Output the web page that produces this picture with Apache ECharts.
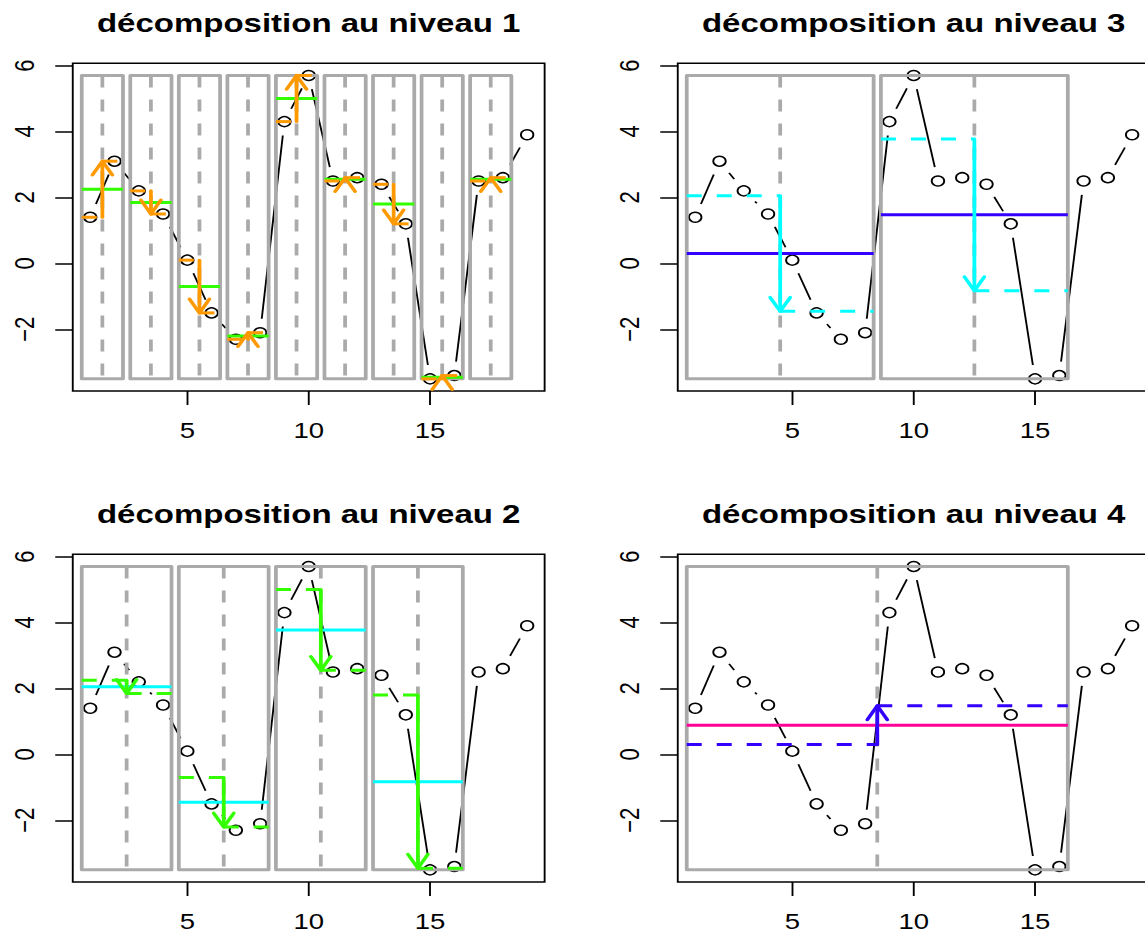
<!DOCTYPE html>
<html>
<head>
<meta charset="utf-8">
<script src="https://cdn.jsdelivr.net/npm/echarts@6/dist/echarts.min.js"></script>
<style>
html,body{margin:0;padding:0;background:#fff;overflow:hidden;width:1145px;height:937px}
#c{width:916px;height:937px;transform:scaleX(1.25);transform-origin:0 0}
</style>
</head>
<body>
<div id="c"></div>
<script>
// ---- data ----
const xIndex = [1, 2, 3, 4, 5, 6, 7, 8, 9, 10, 11, 12, 13, 14, 15, 16, 17, 18, 19];
const values = [1.4, 3.1, 2.2, 1.5, 0.1, -1.5, -2.3, -2.1, 4.3, 5.7, 2.5, 2.6, 2.4, 1.2, -3.5, -3.4, 2.5, 2.6, 3.9];
const level1Means = [2.25, 1.85, -0.7, -2.2, 5.0, 2.55, 1.8, -3.45, 2.55];
const level2Means = [2.05, -1.45, 3.775, -0.825];
const level3Means = [0.3, 1.475];
const level4Means = [0.8875];
const xTicks = [5, 10, 15];
const yTicks = [-2, 0, 2, 4, 6];
const titles = ['décomposition au niveau 1', 'décomposition au niveau 3', 'décomposition au niveau 2', 'décomposition au niveau 4'];

// ---- styling / layout ----
const FONT = "'Liberation Sans', Arial, Helvetica, sans-serif";
const ORANGE = '#FF9900', GREEN = '#33FF00', CYAN = '#00FFFF', BLUE = '#3300FF', PINK = '#FF0099', GRAY = '#AAAAAA';
const grids = [
  {left: 58.2, top: 63.3, width: 377.5, height: 327.7},
  {left: 542.2, top: 63.3, width: 377.5, height: 327.7},
  {left: 58.2, top: 554.3, width: 377.5, height: 327.7},
  {left: 542.2, top: 554.3, width: 377.5, height: 327.7}
];
const panels = [
  {grid: 0, level: 1, prev: values, means: level1Means, prevColor: ORANGE, meanColor: GREEN},
  {grid: 1, level: 3, prev: level2Means, means: level3Means, prevColor: CYAN, meanColor: BLUE},
  {grid: 2, level: 2, prev: level1Means, means: level2Means, prevColor: GREEN, meanColor: CYAN},
  {grid: 3, level: 4, prev: level3Means, means: level4Means, prevColor: BLUE, meanColor: PINK}
];
const PAD = 0.35, GAP = 14, HEAD = 16, LW = 3, DASH = [12, 12];
const yMin = Math.min.apply(null, values), yMax = Math.max.apply(null, values);
const yExt = (yMax - yMin) * 0.04;
const xExt = (xIndex[xIndex.length - 1] - xIndex[0]) * 0.04;

const chart = echarts.init(document.getElementById('c'), null, {renderer: 'svg'});

const option = {
  animation: false,
  backgroundColor: '#fff',
  title: titles.map((t, i) => ({
    text: t,
    left: grids[i].left + grids[i].width / 2,
    top: grids[i].top - 54,
    textAlign: 'center',
    padding: 0,
    textStyle: {fontSize: 26.4, fontWeight: 'bold', fontFamily: FONT, color: '#000'}
  })),
  grid: grids.map(g => Object.assign({show: true, borderColor: '#000', borderWidth: 1.5, backgroundColor: 'transparent', containLabel: false, outerBoundsMode: 'none'}, g)),
  xAxis: grids.map((g, i) => ({
    type: 'value', gridIndex: i,
    min: xIndex[0] - xExt, max: xIndex[xIndex.length - 1] + xExt,
    axisLine: {show: false, onZero: false},
    splitLine: {show: false},
    axisTick: {show: true, inside: false, length: 14, customValues: xTicks, lineStyle: {color: '#000', width: 1.5}},
    axisLabel: {show: true, customValues: xTicks, margin: 28, fontSize: 22, fontFamily: FONT, color: '#000'}
  })),
  yAxis: grids.map((g, i) => ({
    type: 'value', gridIndex: i,
    min: yMin - yExt, max: yMax + yExt,
    axisLine: {show: false, onZero: false},
    splitLine: {show: false},
    axisTick: {show: true, inside: false, length: 14, customValues: yTicks, lineStyle: {color: '#000', width: 1.5}},
    axisLabel: {show: true, customValues: yTicks, margin: 28, rotate: 90, fontSize: 22, fontFamily: FONT, color: '#000',
      formatter: v => (v < 0 ? '\u2212' + Math.abs(v) : String(v))}
  })),
  series: []
};

function segRender(params, api) {
  const p1 = api.coord([api.value(0), api.value(1)]);
  const p2 = api.coord([api.value(2), api.value(3)]);
  const dx = p2[0] - p1[0], dy = p2[1] - p1[1];
  const len = Math.sqrt(dx * dx + dy * dy);
  if (len <= 2 * GAP) return {type: 'group', children: []};
  const ux = dx / len, uy = dy / len;
  return {
    type: 'line',
    shape: {x1: p1[0] + ux * GAP, y1: p1[1] + uy * GAP, x2: p2[0] - ux * GAP, y2: p2[1] - uy * GAP},
    style: {stroke: '#000', lineWidth: 1.5, fill: null}
  };
}

function makeDecompRender(prevColor, meanColor) {
  return function (params, api) {
    const x0 = api.value(0), x1 = api.value(1), xc = api.value(2);
    const lv = api.value(3), rv = api.value(4), m = api.value(5);
    const ylo = api.value(6), yhi = api.value(7);
    const tl = api.coord([x0, yhi]), br = api.coord([x1, ylo]);
    const cTop = api.coord([xc, yhi]), cBot = api.coord([xc, ylo]);
    const pl0 = api.coord([x0, lv]), plc = api.coord([xc, lv]);
    const prc = api.coord([xc, rv]), pr1 = api.coord([x1, rv]);
    const pm0 = api.coord([x0, m]), pm1 = api.coord([x1, m]);
    const sgn = prc[1] > plc[1] ? 1 : -1;
    const hx = HEAD * Math.sin(Math.PI / 6), hy = HEAD * Math.cos(Math.PI / 6);
    const children = [
      {type: 'rect', shape: {x: tl[0], y: tl[1], width: br[0] - tl[0], height: br[1] - tl[1]},
        style: {fill: null, stroke: GRAY, lineWidth: LW, lineJoin: 'round'}},
      {type: 'line', shape: {x1: cTop[0], y1: cTop[1], x2: cBot[0], y2: cBot[1]},
        style: {stroke: GRAY, lineWidth: LW, lineDash: DASH, lineCap: 'butt'}},
      {type: 'line', shape: {x1: pm0[0], y1: pm0[1], x2: pm1[0], y2: pm1[1]},
        style: {stroke: meanColor, lineWidth: LW}},
      {type: 'line', shape: {x1: pl0[0], y1: pl0[1], x2: plc[0], y2: plc[1]},
        style: {stroke: prevColor, lineWidth: LW, lineDash: DASH, lineCap: 'butt'}},
      {type: 'line', shape: {x1: prc[0], y1: prc[1], x2: pr1[0], y2: pr1[1]},
        style: {stroke: prevColor, lineWidth: LW, lineDash: DASH, lineCap: 'butt'}},
      {type: 'line', shape: {x1: plc[0], y1: plc[1], x2: prc[0], y2: prc[1]},
        style: {stroke: prevColor, lineWidth: LW, lineCap: 'round'}},
      {type: 'polyline', shape: {points: [[prc[0] - hx, prc[1] - sgn * hy], [prc[0], prc[1]], [prc[0] + hx, prc[1] - sgn * hy]]},
        style: {stroke: prevColor, lineWidth: LW, fill: null, lineCap: 'round', lineJoin: 'round'}}
    ];
    return {type: 'group', children: children};
  };
}

const segData = [];
for (let i = 0; i < values.length - 1; i++) segData.push([xIndex[i], values[i], xIndex[i + 1], values[i + 1]]);
const pointData = values.map((v, i) => [xIndex[i], v]);

panels.forEach(p => {
  const size = Math.pow(2, p.level);
  const blocks = p.means.map((mean, j) => {
    const s = xIndex[j * size], e = xIndex[(j + 1) * size - 1];
    const c = (s + e) / 2;
    return [s - PAD, e + PAD, c, p.prev[2 * j], p.prev[2 * j + 1], mean, yMin, yMax];
  });
  option.series.push({
    type: 'custom', xAxisIndex: p.grid, yAxisIndex: p.grid, z: 2, silent: true,
    renderItem: segRender, data: segData, encode: {x: [0, 2], y: [1, 3]}, clip: false
  });
  option.series.push({
    type: 'scatter', xAxisIndex: p.grid, yAxisIndex: p.grid, z: 3, silent: true,
    symbol: 'circle', symbolSize: 10, data: pointData,
    itemStyle: {color: 'rgba(255,255,255,0)', borderColor: '#000', borderWidth: 1.5, opacity: 1},
    emphasis: {disabled: true}
  });
  option.series.push({
    type: 'custom', xAxisIndex: p.grid, yAxisIndex: p.grid, z: 4, silent: true,
    renderItem: makeDecompRender(p.prevColor, p.meanColor), data: blocks,
    encode: {x: [0, 1, 2], y: [3, 4, 5]}, clip: false
  });
});

chart.setOption(option);
</script>
</body>
</html>
